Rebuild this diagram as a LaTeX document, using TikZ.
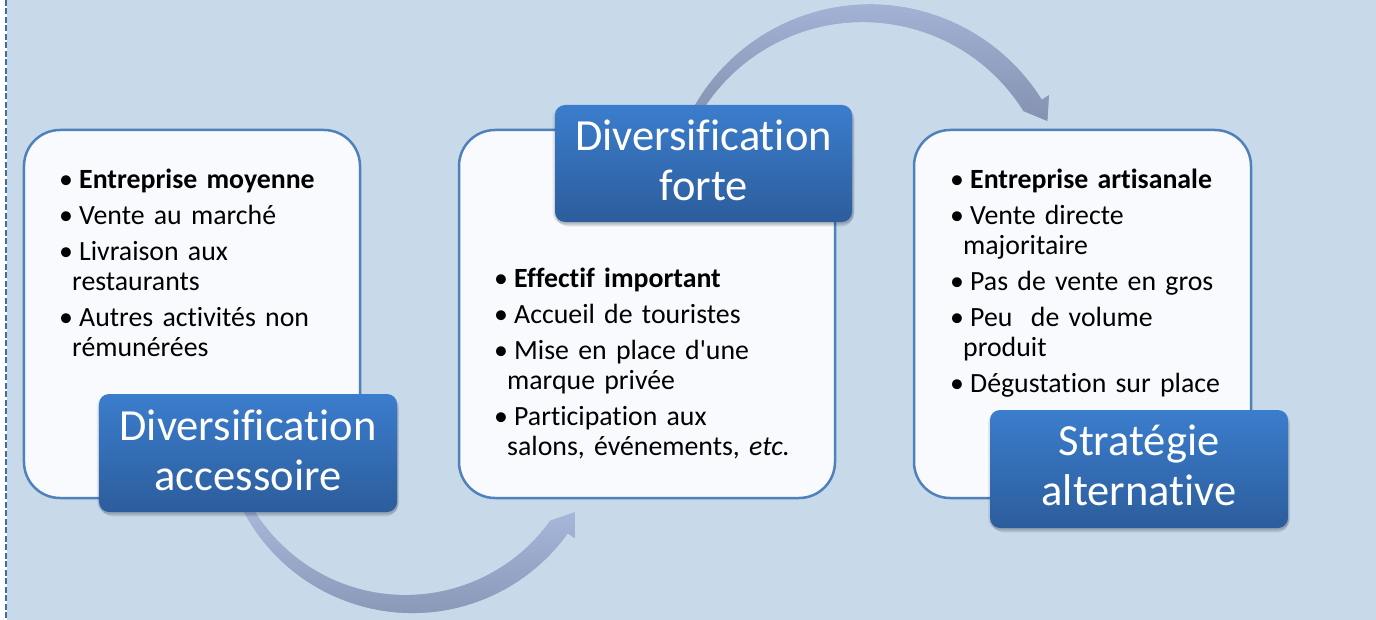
\documentclass[tikz,border=0pt]{standalone}
\usepackage{fontspec}
\setmainfont{Carlito}[Ligatures={NoCommon}]
\usetikzlibrary{calc}
\definecolor{bgc}{RGB}{200,218,233}
\definecolor{boxline}{RGB}{79,129,189}
\definecolor{boxfill}{RGB}{248,250,253}
\definecolor{labtop}{RGB}{59,125,205}
\definecolor{labbot}{RGB}{44,93,156}
\definecolor{arrtop}{RGB}{170,187,222}
\definecolor{arrbot}{RGB}{132,145,176}
\definecolor{dashc}{RGB}{60,111,163}
\definecolor{shadc}{RGB}{40,50,70}
\newcommand\bodysetup{\fontsize{27.8bp}{30bp}\selectfont\lineskiplimit=-100pt\lineskip=0pt\parskip=0pt\parindent=0pt\relax}
\newcommand\bitem[1]{\hangindent=13bp\hangafter=1\noindent\hbox to 20bp{\vrule width 0pt height 24bp\textbullet\hfil}#1\par\vskip 6bp}
\newcommand\arrowone{($(c1)+(153:191)$) arc[start angle=153, end angle=35.6, radius=191]
  -- ($(c1)+(35.6:199.5)$) -- ($(c1)+(35.6:184.5)+(-54.4:21)$) -- ($(c1)+(35.6:169.5)$)
  arc[start angle=35.6, end angle=153, radius=178] -- cycle}
\newcommand\arrowtwo{($(c2)+(208:202.5)$) arc[start angle=208, end angle=328, radius=202.5]
  -- ($(c2)+(328:211)$) -- ($(c2)+(328:196)+(58:21)$) -- ($(c2)+(328:181)$)
  arc[start angle=328, end angle=208, radius=189.5] -- cycle}
\begin{document}
\begin{tikzpicture}[x=1bp,y=-1bp,
  box/.style={draw=boxline, line width=2.5bp, fill=boxfill, rounded corners=36bp, inner sep=0pt},
  lab/.style={rounded corners=10bp, top color=labtop, bottom color=labbot, draw=none, inner sep=0pt},
  labshadow/.style={rounded corners=11bp, fill=shadc, fill opacity=0.09, draw=none, inner sep=0pt},
  labtxt/.style={text=white, font=\fontsize{44.5bp}{50bp}\selectfont, anchor=base, inner sep=0pt},
  btext/.style={anchor=north west, inner sep=0pt, text width=330bp, align=left, font=\bodysetup},
  arrowshape/.style={top color=arrtop, bottom color=arrbot, draw=none},
  arrowshadow/.style={fill=shadc, fill opacity=0.07, draw=none}]
\useasboundingbox (0,0) rectangle (1376,620);
% background
\fill[bgc] (7,0) rectangle (1376,620);
\fill[white] (0,0) rectangle (7,620);
\coordinate (dtop) at (6,0);
\coordinate (dbot) at (6,620);
\draw[dashc, line width=2.4bp, dash pattern=on 6bp off 2.5bp] (dtop) -- (dbot);
% curved arrows (with soft shadow)
\coordinate (c1) at (412.5,422);
\coordinate (c2) at (870,207);
\foreach \dx/\dy in {0.5/1.5, 1/2.5, 1.5/3.5, 2/4.5} {
  \begin{scope}[shift={(\dx,\dy)}]
    \fill[arrowshadow] \arrowone;
    \fill[arrowshadow] \arrowtwo;
  \end{scope}
}
\shade[arrowshape] \arrowone;
\shade[arrowshape] \arrowtwo;
% boxes
\node[box, minimum width=336bp, minimum height=368bp] (b1) at (192,314) {};
\node[box, minimum width=376bp, minimum height=368bp] (b2) at (647,314) {};
\node[box, minimum width=337bp, minimum height=368bp] (b3) at (1082.5,314) {};
% body texts
\node[btext] (t1) at (59,164) {\bodysetup
  \bitem{\textbf{Entreprise moyenne}}
  \bitem{Vente au marché}
  \bitem{Livraison aux\newline restaurants}
  \bitem{Autres activités non\newline rémunérées}};
\node[btext] (t2) at (494,263) {\bodysetup
  \bitem{\textbf{Effectif important}}
  \bitem{Accueil de touristes}
  \bitem{Mise en place d\textquotesingle une\newline marque privée}
  \bitem{Participation aux\newline salons, événements, \textit{etc.}}};
\node[btext] (t3) at (950,164) {\bodysetup
  \bitem{\textbf{Entreprise artisanale}}
  \bitem{Vente directe\newline majoritaire}
  \bitem{Pas de vente en gros}
  \bitem{Peu\ \ de volume\newline produit}
  \bitem{Dégustation sur place}};
% labels (soft shadow, then gradient box)
\foreach \dx/\dy/\gw in {0/1.5/302, 0.5/2.5/300, 1/3.5/298, 1.5/4.5/296} {
  \node[labshadow, minimum width=\gw bp, minimum height=118bp] at (248+\dx,453+\dy) {};
  \node[labshadow, minimum width=\gw bp, minimum height=117bp] at (703.5+\dx,163.5+\dy) {};
  \node[labshadow, minimum width=\gw bp, minimum height=118bp] at (1139+\dx,469+\dy) {};
}
\node[lab, minimum width=298bp, minimum height=118bp] (l1) at (248,453) {};
\node[lab, minimum width=297bp, minimum height=117bp] (l2) at (703.5,163.5) {};
\node[lab, minimum width=298bp, minimum height=118bp] (l3) at (1139,469) {};
\node[labtxt] (l1a) at (248,440) {Diversification};
\node[labtxt] (l1b) at (248,490) {accessoire};
\node[labtxt] (l2a) at (703.5,150.5) {Diversification};
\node[labtxt] (l2b) at (703.5,200.5) {forte};
\node[labtxt] (l3a) at (1139,455) {Stratégie};
\node[labtxt] (l3b) at (1139,505) {alternative};
\end{tikzpicture}
\end{document}
